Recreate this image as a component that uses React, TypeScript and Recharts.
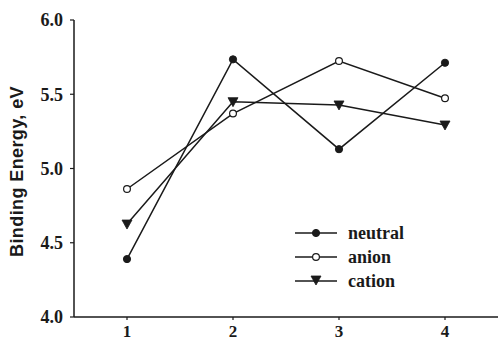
import React from "react";
import { LineChart, Line, XAxis, YAxis, Label } from "recharts";

const categories = [1, 2, 3, 4];
const neutral = [4.39, 5.735, 5.13, 5.712];
const anion = [4.862, 5.37, 5.724, 5.473];
const cation = [4.626, 5.45, 5.428, 5.293];
const yTicks = [4.0, 4.5, 5.0, 5.5, 6.0];
const seriesNames = ["neutral", "anion", "cation"];

const data = categories.map((c, i) => ({
  x: c,
  neutral: neutral[i],
  anion: anion[i],
  cation: cation[i],
}));

const INK = "#1a1a1a";
const serif = "'Liberation Serif', 'Times New Roman', serif";
const sans = "'Liberation Sans', Arial, sans-serif";

const FilledDot = (p: any) =>
  p.cx == null ? null : <circle cx={p.cx} cy={p.cy} r={3.6} fill={INK} stroke={INK} strokeWidth={1} />;
const OpenDot = (p: any) =>
  p.cx == null ? null : <circle cx={p.cx} cy={p.cy} r={3.4} fill="#fff" stroke={INK} strokeWidth={1.2} />;
const TriDot = (p: any) =>
  p.cx == null ? null : (
    <polygon
      points={`${p.cx - 5},${p.cy - 4} ${p.cx + 5},${p.cy - 4} ${p.cx},${p.cy + 5}`}
      fill={INK}
      stroke={INK}
      strokeWidth={0.8}
    />
  );

const kinds = ["filled", "open", "tri"];

const LegendBox = () => (
  <div style={{ position: "absolute", left: 290, top: 221, display: "flex", flexDirection: "column" }}>
    {seriesNames.map((name, i) => (
      <div key={name} style={{ display: "flex", alignItems: "center", height: 24 }}>
        <svg width={54} height={24}>
          <line x1={5} x2={47} y1={12} y2={12} stroke={INK} strokeWidth={1.5} />
          {kinds[i] === "filled" && <FilledDot cx={26} cy={12} />}
          {kinds[i] === "open" && <OpenDot cx={26} cy={12} />}
          {kinds[i] === "tri" && <TriDot cx={26} cy={11} />}
        </svg>
        <span style={{ fontFamily: serif, fontWeight: "bold", fontSize: 18, color: INK, marginLeft: 4, lineHeight: "24px" }}>
          {name}
        </span>
      </div>
    ))}
  </div>
);

export default function App() {
  return (
    <div style={{ position: "absolute", left: 0, top: 0, width: 498, height: 343, background: "#fff" }}>
      <LineChart width={498} height={343} data={data} margin={{ top: 20, right: 0, bottom: 0, left: 10 }}>
        <XAxis
          dataKey="x"
          type="number"
          domain={[0.5, 4.5]}
          ticks={categories}
          height={26}
          tickSize={3}
          tickMargin={5}
          axisLine={{ stroke: INK, strokeWidth: 1.5 }}
          tickLine={{ stroke: INK, strokeWidth: 1.2 }}
          tick={{ fill: INK, fontFamily: serif, fontWeight: "bold", fontSize: 17 }}
        />
        <YAxis
          type="number"
          domain={[4, 6]}
          ticks={yTicks}
          width={64}
          tickSize={4}
          tickMargin={7}
          tickFormatter={(v: number) => v.toFixed(1)}
          axisLine={{ stroke: INK, strokeWidth: 1.5 }}
          tickLine={{ stroke: INK, strokeWidth: 1.2 }}
          tick={{ fill: INK, fontFamily: serif, fontWeight: "bold", fontSize: 18 }}
        >
          <Label
            value="Binding Energy, eV"
            angle={-90}
            position="center"
            dx={-25}
            dy={3}
            style={{ fontFamily: sans, fontWeight: "bold", fontSize: 18, fill: INK, letterSpacing: 0.4 }}
          />
        </YAxis>
        <Line dataKey="neutral" stroke={INK} strokeWidth={1.5} dot={<FilledDot />} activeDot={false} isAnimationActive={false} />
        <Line dataKey="anion" stroke={INK} strokeWidth={1.5} dot={<OpenDot />} activeDot={false} isAnimationActive={false} />
        <Line dataKey="cation" stroke={INK} strokeWidth={1.5} dot={<TriDot />} activeDot={false} isAnimationActive={false} />
      </LineChart>
      <LegendBox />
    </div>
  );
}
